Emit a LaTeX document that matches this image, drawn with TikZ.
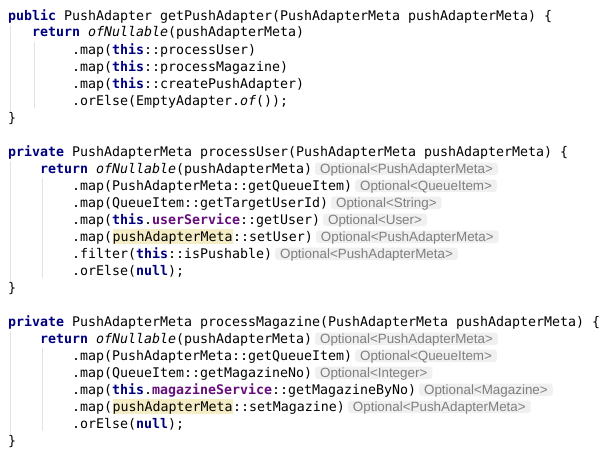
\documentclass[tikz,border=0pt]{standalone}
\usepackage{fontspec}
\setmainfont{Liberation Sans}
\setmonofont{DejaVu Sans Mono}[ItalicFont={DejaVu Sans Mono Oblique},BoldFont={DejaVu Sans Mono Bold}]
\definecolor{kwc}{HTML}{000080}
\definecolor{fldc}{HTML}{660E7A}
\definecolor{hintbg}{HTML}{F0F0F0}
\definecolor{hintfg}{HTML}{7F7F7F}
\definecolor{hlbg}{HTML}{F5EDC6}
\definecolor{guidec}{HTML}{E2E2E2}
\newcommand\kw[1]{{\bfseries\color{kwc}#1}}
\newcommand\fld[1]{{\bfseries\color{fldc}#1}}
\newcommand\sm[1]{{\itshape #1}}
\newcommand\codefont{\fontsize{13.288}{17}\selectfont\ttfamily}
\tikzset{
  code/.style={anchor=base west, inner sep=0pt, font=\codefont, text=black},
  hint/.style={anchor=base west, inner xsep=5pt, inner ysep=0pt, text height=10.5pt, text depth=2pt,
    fill=hintbg, rounded corners=3pt, text=hintfg, font=\fontsize{13.4}{15}\selectfont},
  hl/.style={anchor=base west, inner sep=0pt, text height=12pt, text depth=3pt, fill=hlbg, font=\codefont},
  guide/.style={draw=guidec, line width=1pt}
}
\begin{document}
\begin{tikzpicture}[x=1pt,y=-1pt]
\useasboundingbox[fill=white] (0,0) rectangle (614,463);
% guides
\draw[guide] (10.5,25) -- (10.5,112);
\draw[guide] (34.5,42) -- (34.5,108);
\draw[guide] (10.5,161) -- (10.5,282);
\draw[guide] (42.5,178) -- (42.5,278);
\draw[guide] (10.5,331) -- (10.5,435);
\draw[guide] (42.5,348) -- (42.5,431);
% method 1
\node[code] (L1) at (8,20) {\kw{public} PushAdapter getPushAdapter(PushAdapterMeta pushAdapterMeta) \{};
\node[code] (L2) at (32,37) {\kw{return} \sm{ofNullable}(pushAdapterMeta)};
\node[code] (L3) at (72,54) {.map(\kw{this}::processUser)};
\node[code] (L4) at (72,71) {.map(\kw{this}::processMagazine)};
\node[code] (L5) at (72,88) {.map(\kw{this}::createPushAdapter)};
\node[code] (L6) at (72,105) {.orElse(EmptyAdapter.\sm{of}());};
\node[code] (L7) at (8,122) {\}};
% method 2
\node[code] (L9) at (8,156) {\kw{private} PushAdapterMeta processUser(PushAdapterMeta pushAdapterMeta) \{};
\node[code] (L10) at (40,173) {\kw{return} \sm{ofNullable}(pushAdapterMeta)};
\node[hint] (H10) at ([xshift=2.5pt]L10.base east) {Optional<PushAdapterMeta>};
\node[code] (L11) at (72,190) {.map(PushAdapterMeta::getQueueItem)};
\node[hint] (H11) at ([xshift=2.5pt]L11.base east) {Optional<QueueItem>};
\node[code] (L12) at (72,207) {.map(QueueItem::getTargetUserId)};
\node[hint] (H12) at ([xshift=2.5pt]L12.base east) {Optional<String>};
\node[code] (L13) at (72,224) {.map(\kw{this}.\fld{userService}::getUser)};
\node[hint] (H13) at ([xshift=2.5pt]L13.base east) {Optional<User>};
\node[code] (L14a) at (72,241) {.map(};
\node[hl] (L14b) at (L14a.base east) {pushAdapterMeta};
\node[code] (L14c) at (L14b.base east) {::setUser)};
\node[hint] (H14) at ([xshift=2.5pt]L14c.base east) {Optional<PushAdapterMeta>};
\node[code] (L15) at (72,258) {.filter(\kw{this}::isPushable)};
\node[hint] (H15) at ([xshift=2.5pt]L15.base east) {Optional<PushAdapterMeta>};
\node[code] (L16) at (72,275) {.orElse(\kw{null});};
\node[code] (L17) at (8,292) {\}};
% method 3
\node[code] (L19) at (8,326) {\kw{private} PushAdapterMeta processMagazine(PushAdapterMeta pushAdapterMeta) \{};
\node[code] (L20) at (40,343) {\kw{return} \sm{ofNullable}(pushAdapterMeta)};
\node[hint] (H20) at ([xshift=2.5pt]L20.base east) {Optional<PushAdapterMeta>};
\node[code] (L21) at (72,360) {.map(PushAdapterMeta::getQueueItem)};
\node[hint] (H21) at ([xshift=2.5pt]L21.base east) {Optional<QueueItem>};
\node[code] (L22) at (72,377) {.map(QueueItem::getMagazineNo)};
\node[hint] (H22) at ([xshift=2.5pt]L22.base east) {Optional<Integer>};
\node[code] (L23) at (72,394) {.map(\kw{this}.\fld{magazineService}::getMagazineByNo)};
\node[hint] (H23) at ([xshift=2.5pt]L23.base east) {Optional<Magazine>};
\node[code] (L24a) at (72,411) {.map(};
\node[hl] (L24b) at (L24a.base east) {pushAdapterMeta};
\node[code] (L24c) at (L24b.base east) {::setMagazine)};
\node[hint] (H24) at ([xshift=2.5pt]L24c.base east) {Optional<PushAdapterMeta>};
\node[code] (L25) at (72,428) {.orElse(\kw{null});};
\node[code] (L26) at (8,445) {\}};
\end{tikzpicture}
\end{document}
